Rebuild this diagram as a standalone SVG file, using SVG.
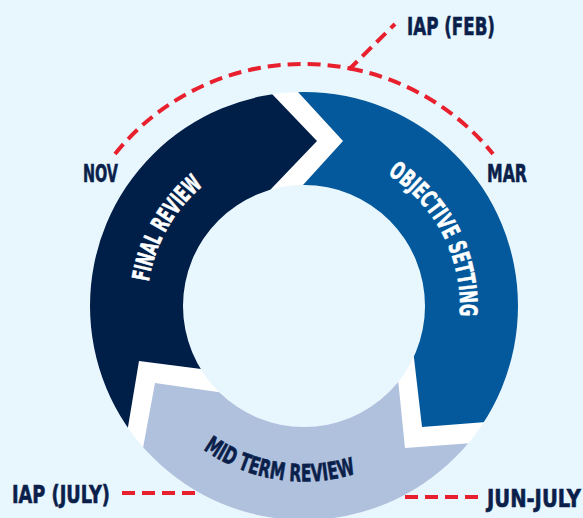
<svg xmlns="http://www.w3.org/2000/svg" width="583" height="518" viewBox="0 0 583 518">
<defs>
<style>
.lbl{font-family:"Liberation Sans Narrow","DejaVu Sans Condensed","Liberation Sans",sans-serif;font-weight:bold;font-size:25px;fill:#0b1f4b;stroke:#0b1f4b;stroke-width:0.6}
.seg{font-family:"Liberation Sans Narrow","DejaVu Sans Condensed","Liberation Sans",sans-serif;font-weight:bold;font-size:24px;stroke-width:0.6}
.dash{fill:none;stroke:#e8202e;stroke-width:4;stroke-dasharray:13 7}
</style>
<clipPath id="ring"><path clip-rule="evenodd" d="M90,306 a214,214 0 1,0 428,0 a214,214 0 1,0 -428,0 Z M183,306 a121,121 0 1,0 242,0 a121,121 0 1,0 -242,0 Z"/></clipPath>
<path id="pFinal" d="M168.7,385.7 A157,157 0 0 1 302.6,149.0"/>
<path id="pObj" d="M312.2,150.2 A156,156 0 0 1 434.8,391.0"/>
<path id="pMid" d="M140.2,368.9 A175.5,175.5 0 0 0 440.4,416.4"/>
</defs>
<rect width="583" height="518" fill="#e8f6fd"/>
<g id="ring-base">
<path fill="#ffffff" fill-rule="evenodd" d="M90,306 a214,214 0 1,0 428,0 a214,214 0 1,0 -428,0 Z M183,306 a121,121 0 1,0 242,0 a121,121 0 1,0 -242,0 Z"/>
</g>
<g id="final-review">
<polygon clip-path="url(#ring)" fill="#001f48" points="240,374 139,361 122,463 40,463 40,40 251,72 273,95 317,141 272,188 249.5,211.5"/>
<text class="seg" fill="#ffffff" stroke="#ffffff"><textPath href="#pFinal" startOffset="50%" text-anchor="middle" textLength="113" lengthAdjust="spacingAndGlyphs">FINAL REVIEW</textPath></text>
</g>
<g id="objective-setting">
<polygon clip-path="url(#ring)" fill="#03599b" points="275.5,40 275.5,67.5 298,92 343,141 303,185 283,207 410,323.5 414,358 422,427 486,422 518,419.5 560,419 560,40"/>
<text class="seg" fill="#ffffff" stroke="#ffffff"><textPath href="#pObj" startOffset="50%" text-anchor="middle" textLength="167" lengthAdjust="spacingAndGlyphs">OBJECTIVE SETTING</textPath></text>
</g>
<g id="mid-term-review">
<polygon clip-path="url(#ring)" fill="#b0c1de" points="260,398 155,383 138,475 150,560 540,560 540,438 405,448 394,340"/>
<text class="seg" fill="#0b1f4b" stroke="#0b1f4b"><textPath href="#pMid" startOffset="50%" text-anchor="middle" textLength="160" lengthAdjust="spacingAndGlyphs">MID TERM REVIEW</textPath></text>
</g>
<g id="connectors">
<path class="dash" d="M115,154 A242,242 0 0 1 350,68.5 L395,24"/>
<path class="dash" d="M350,68.5 A242,242 0 0 1 493,154"/>
<path class="dash" d="M122,493 L197,493"/>
<path class="dash" d="M405,497 L478,497"/>
</g>
<g id="labels">
<text class="lbl" x="407" y="35" textLength="88" lengthAdjust="spacingAndGlyphs">IAP (FEB)</text>
<text class="lbl" x="83" y="182" textLength="35" lengthAdjust="spacingAndGlyphs">NOV</text>
<text class="lbl" x="487" y="182" textLength="40" lengthAdjust="spacingAndGlyphs">MAR</text>
<text class="lbl" x="12" y="503" textLength="98" lengthAdjust="spacingAndGlyphs">IAP (JULY)</text>
<text class="lbl" x="487" y="507" textLength="94" lengthAdjust="spacingAndGlyphs">JUN-JULY</text>
</g>
</svg>
